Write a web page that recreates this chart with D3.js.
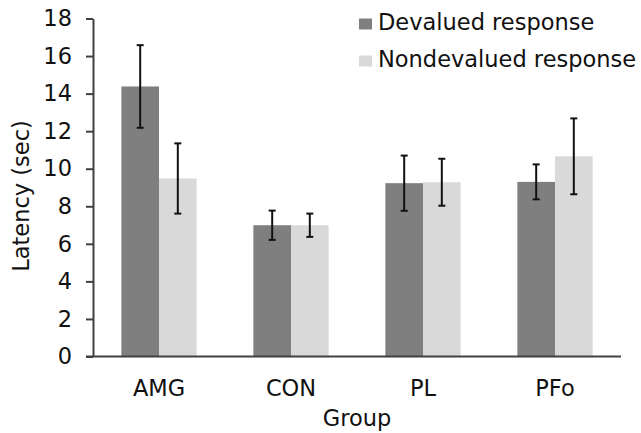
<!DOCTYPE html>
<html><head><meta charset="utf-8">
<script src="https://cdn.jsdelivr.net/npm/d3@7/dist/d3.min.js"></script>
<style>body{margin:0;background:#fff}svg{display:block;font-family:"DejaVu Sans",Verdana,sans-serif}</style>
</head><body><svg id="c" width="641" height="433"></svg>
<script>
const categories = ["AMG", "CON", "PL", "PFo"];
const seriesNames = ["Devalued response", "Nondevalued response"];
const devalued = [14.38, 6.99, 9.23, 9.30];
const nondevalued = [9.48, 6.99, 9.28, 10.66];
const devaluedErr = [2.2, 0.78, 1.47, 0.93];
const nondevaluedErr = [1.87, 0.62, 1.25, 2.02];
const yTicks = [0, 2, 4, 6, 8, 10, 12, 14, 16, 18];
const colors = ["#7f7f7f", "#d9d9d9"];
const FS = 22.5;

const svg = d3.select("#c");
const x0 = d3.scaleBand().domain(categories).range([93, 621]).paddingInner(0.43).paddingOuter(0.215);
const x1 = d3.scaleBand().domain(seriesNames).range([0, x0.bandwidth()]);
const y = d3.scaleLinear().domain([0, 18]).range([356.5, 18.5]);

const vals = [devalued, nondevalued];
const errs = [devaluedErr, nondevaluedErr];
const data = [];
categories.forEach((c, i) => seriesNames.forEach((s, j) => data.push({c, s, j, v: vals[j][i], e: errs[j][i]})));

svg.append("g").selectAll("rect").data(data).join("rect")
  .attr("x", d => x0(d.c) + x1(d.s))
  .attr("width", x1.bandwidth())
  .attr("y", d => y(d.v))
  .attr("height", d => y(0) - y(d.v))
  .attr("fill", d => colors[d.j]);

// error bars
const eg = svg.append("g").attr("stroke", "#111").attr("stroke-width", 2);
data.forEach(d => {
  const cx = x0(d.c) + x1(d.s) + x1.bandwidth() / 2;
  eg.append("line").attr("x1", cx).attr("x2", cx).attr("y1", y(d.v + d.e)).attr("y2", y(d.v - d.e));
  eg.append("line").attr("x1", cx - 3.5).attr("x2", cx + 3.5).attr("y1", y(d.v + d.e)).attr("y2", y(d.v + d.e));
  eg.append("line").attr("x1", cx - 3.5).attr("x2", cx + 3.5).attr("y1", y(d.v - d.e)).attr("y2", y(d.v - d.e));
});

// y axis
const ya = svg.append("g").attr("transform", "translate(93,0)")
  .call(d3.axisLeft(y).tickValues(yTicks).tickSize(7).tickPadding(14).tickSizeOuter(0));
ya.select(".domain").attr("stroke", "#404040").attr("stroke-width", 2);
ya.selectAll(".tick line").attr("stroke", "#404040").attr("stroke-width", 2);
ya.selectAll("text").attr("font-size", FS).attr("fill", "#111").attr("font-family", "DejaVu Sans");

// x axis
const xa = svg.append("g").attr("transform", "translate(0,356.5)")
  .call(d3.axisBottom(x0).tickSize(0).tickPadding(24).tickSizeOuter(0));
xa.select(".domain").attr("stroke", "#404040").attr("stroke-width", 2).attr("d", "M86,0H621");
xa.selectAll("text").attr("font-size", FS).attr("fill", "#111").attr("font-family", "DejaVu Sans");

// axis titles
svg.append("text").attr("x", 357).attr("y", 426).attr("text-anchor", "middle")
  .attr("font-size", FS).attr("fill", "#111").text("Group");
svg.append("text").attr("transform", "translate(29,196) rotate(-90)").attr("text-anchor", "middle")
  .attr("font-size", FS).attr("fill", "#111").text("Latency (sec)");

// legend
const lg = svg.append("g");
seriesNames.forEach((s, j) => {
  const yy = 24 + j * 37;
  lg.append("rect").attr("x", 359).attr("y", yy - 5.5).attr("width", 13).attr("height", 11).attr("fill", colors[j]);
  lg.append("text").attr("x", 378).attr("y", yy + 5.5).attr("font-size", FS).attr("fill", "#111").text(s);
});
</script></body></html>
